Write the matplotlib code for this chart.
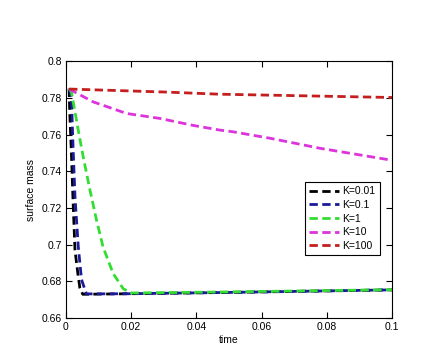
import matplotlib
matplotlib.use("Agg")
import matplotlib.pyplot as plt
from matplotlib.ticker import FixedLocator

# values
t_k001 = [0.001, 0.0012, 0.0017, 0.0022, 0.0028, 0.0037, 0.0043, 0.0052, 0.02, 0.05, 0.1]
m_k001 = [0.785, 0.7716, 0.750, 0.724, 0.697, 0.684, 0.6764, 0.673, 0.6733, 0.6740, 0.6754]

t_k01 = [0.001, 0.0017, 0.0022, 0.0028, 0.0038, 0.0048, 0.0063, 0.02, 0.05, 0.1]
m_k01 = [0.785, 0.7806, 0.7534, 0.726, 0.699, 0.681, 0.6732, 0.6733, 0.6740, 0.6754]

t_k1 = [0.001, 0.0017, 0.0038, 0.0053, 0.0074, 0.0094, 0.0114, 0.0145, 0.0176, 0.0201, 0.05, 0.1]
m_k1 = [0.785, 0.7833, 0.7624, 0.748, 0.7297, 0.7134, 0.6988, 0.6843, 0.676, 0.6737, 0.6743, 0.6755]

t_k10 = [0.001, 0.0084, 0.0186, 0.0288, 0.039, 0.047, 0.0513, 0.0626, 0.078, 0.1]
m_k10 = [0.7848, 0.7778, 0.7715, 0.7688, 0.765, 0.7625, 0.7615, 0.758, 0.7525, 0.746]

t_k100 = [0.001, 0.03, 0.047, 0.1]
m_k100 = [0.7848, 0.7832, 0.782, 0.7802]

labels = ["K=0.01", "K=0.1", "K=1", "K=10", "K=100"]
colors = ["#000000", "#1a1a9a", "#33dd33", "#dd33dd", "#c41e1e"]

plt.rcParams["font.family"] = ["Liberation Sans", "DejaVu Sans"]

fig = plt.figure(figsize=(4.45, 3.64), dpi=100)
ax = fig.add_axes([0.148, 0.126, 0.733, 0.706])

series = [(t_k001, m_k001), (t_k01, m_k01), (t_k1, m_k1), (t_k10, m_k10), (t_k100, m_k100)]
for (t, m), lab, c in zip(series, labels, colors):
    ax.plot(t, m, linestyle=(0, (3, 1.6)), color=c, linewidth=2, label=lab)

ax.set_xlim(0, 0.1)
ax.set_ylim(0.66, 0.8)
xt = [0, 0.02, 0.04, 0.06, 0.08, 0.1]
yt = [0.66, 0.68, 0.7, 0.72, 0.74, 0.76, 0.78, 0.8]
ax.xaxis.set_major_locator(FixedLocator(xt))
ax.yaxis.set_major_locator(FixedLocator(yt))
ax.set_xticklabels(["0", "0.02", "0.04", "0.06", "0.08", "0.1"], fontsize=7.5)
ax.set_yticklabels(["0.66", "0.68", "0.7", "0.72", "0.74", "0.76", "0.78", "0.8"], fontsize=7.5)
ax.tick_params(direction="in", top=True, right=True, length=4, width=0.8, pad=3)
for s in ax.spines.values():
    s.set_linewidth(0.8)

ax.set_xlabel("time", fontsize=7.5, labelpad=2)
ax.set_ylabel("surface mass", fontsize=7.5, labelpad=4)

leg = ax.legend(loc="lower left", bbox_to_anchor=(0.733, 0.245), fontsize=7.5,
                fancybox=False, framealpha=1, edgecolor="black",
                handlelength=2.9, handletextpad=0.3, borderpad=0.4,
                labelspacing=0.35, borderaxespad=0)
leg.get_frame().set_linewidth(0.8)

fig.savefig("out.png", dpi=100)
